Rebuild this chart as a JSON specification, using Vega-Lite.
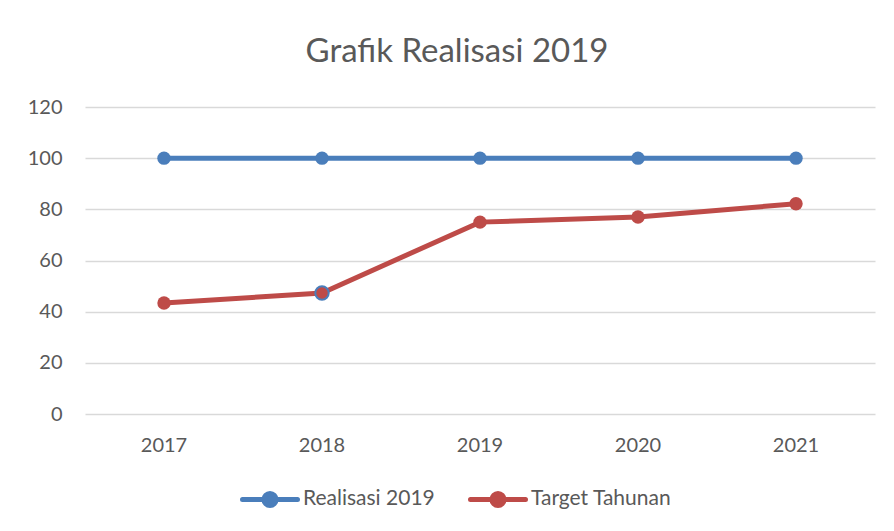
{
  "$schema": "https://vega.github.io/schema/vega-lite/v6.json",
  "autosize": "none",
  "width": 790,
  "height": 307,
  "padding": {"left": 85, "top": 107, "right": 19, "bottom": 117},
  "background": "white",
  "config": {
    "font": "Lato",
    "view": {"stroke": null},
    "axis": {"labelColor": "#595959", "labelFontSize": 20, "labelFont": "Lato", "gridColor": "#d9d9d9", "gridWidth": 1.5, "ticks": false, "domain": false, "title": null}
  },
  "title": {"text": "Grafik Realisasi 2019", "fontSize": 33, "fontWeight": "normal", "color": "#595959", "font": "Lato", "anchor": "middle", "dx": -23, "offset": 28},
  "data": {"values": [
    {"year": "2017", "series": "Realisasi 2019", "value": 100},
    {"year": "2018", "series": "Realisasi 2019", "value": 100},
    {"year": "2019", "series": "Realisasi 2019", "value": 100},
    {"year": "2020", "series": "Realisasi 2019", "value": 100},
    {"year": "2021", "series": "Realisasi 2019", "value": 100},
    {"year": "2017", "series": "Target Tahunan", "value": 43.4},
    {"year": "2018", "series": "Target Tahunan", "value": 47.3},
    {"year": "2019", "series": "Target Tahunan", "value": 75.0},
    {"year": "2020", "series": "Target Tahunan", "value": 77.0},
    {"year": "2021", "series": "Target Tahunan", "value": 82.2}
  ]},
  "encoding": {
    "x": {"field": "year", "type": "ordinal", "scale": {"type": "band", "paddingInner": 0, "paddingOuter": 0}, "axis": {"labelAngle": 0, "labelPadding": 21, "grid": false}},
    "y": {"field": "value", "type": "quantitative", "scale": {"domain": [0, 120], "nice": false}, "axis": {"values": [0, 20, 40, 60, 80, 100, 120], "labelPadding": 23}},
    "color": {
      "field": "series", "type": "nominal",
      "scale": {"domain": ["Realisasi 2019", "Target Tahunan"], "range": ["#4a7ebb", "#be4b48"]},
      "legend": {
        "orient": "none", "legendX": 155, "legendY": 362, "direction": "horizontal", "title": null,
        "symbolType": "M -1 0 L 1 0 M 0.22 0 A 0.22 0.22 0 1 1 -0.22 0 A 0.22 0.22 0 1 1 0.22 0 Z",
        "symbolSize": 3025, "symbolStrokeWidth": 5, "symbolOpacity": 1,
        "labelFontSize": 21, "labelColor": "#595959", "labelFont": "Lato", "labelOffset": 3, "columnPadding": 25,
        "encode": {"symbols": {"update": {"fill": {"scale": "color", "field": "value"}, "stroke": {"scale": "color", "field": "value"}, "strokeCap": {"value": "round"}}}}
      }
    }
  },
  "layer": [
    {"mark": {"type": "line", "strokeWidth": 5}, "encoding": {}},
    {"mark": {"type": "point", "filled": true, "size": 180, "opacity": 1, "strokeWidth": 2},
     "encoding": {"stroke": {"condition": {"test": "datum.year == '2018' && datum.series == 'Target Tahunan'", "value": "#4a7ebb"}, "value": null}}}
  ]
}
